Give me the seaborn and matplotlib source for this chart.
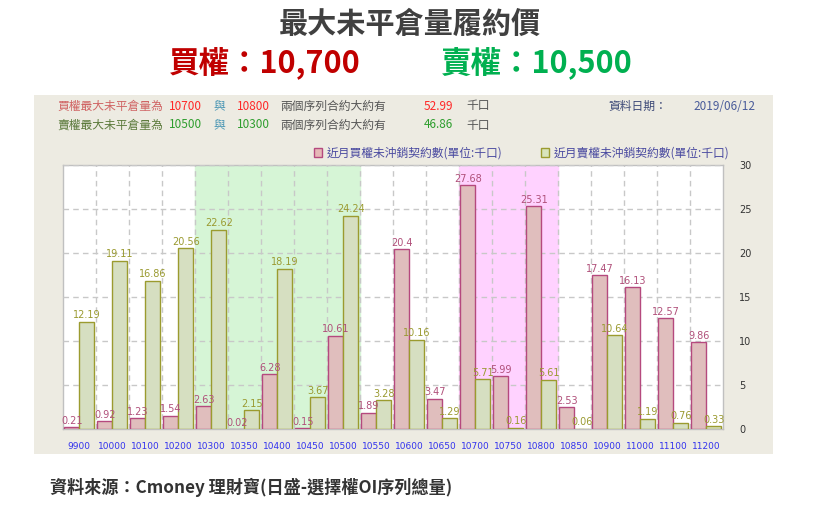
import numpy as np
import pandas as pd
import matplotlib
matplotlib.use("Agg")
import matplotlib.pyplot as plt
from matplotlib.patches import Rectangle, Patch
import seaborn as sns

# ---------------- data ----------------
strikes = ["9900", "10000", "10100", "10200", "10300", "10350", "10400", "10450", "10500", "10550",
           "10600", "10650", "10700", "10750", "10800", "10850", "10900", "11000", "11100", "11200"]
call_oi = [0.21, 0.92, 1.23, 1.54, 2.63, 0.02, 6.28, 0.15, 10.61, 1.89,
           20.4, 3.47, 27.68, 5.99, 25.31, 2.53, 17.47, 16.13, 12.57, 9.86]
put_oi = [12.19, 19.11, 16.86, 20.56, 22.62, 2.15, 18.19, 3.67, 24.24, 3.28,
          10.16, 1.29, 5.71, 0.16, 5.61, 0.06, 10.64, 1.19, 0.76, 0.33]
call_label = "近月買權未沖銷契約數(單位:千口)"
put_label = "近月賣權未沖銷契約數(單位:千口)"
y_ticks = [0, 5, 10, 15, 20, 25, 30]
put_zone = ["10300", "10500"]
call_zone = ["10700", "10800"]

df = pd.DataFrame({
    "strike": strikes * 2,
    "series": [call_label] * len(strikes) + [put_label] * len(strikes),
    "value": call_oi + put_oi,
})

# ---------------- style ----------------
sns.set_theme(style="white")
plt.rcParams["font.family"] = ["Noto Sans CJK TC", "DejaVu Sans"]

W, H = 819, 508
fig = plt.figure(figsize=(W / 100, H / 100), dpi=100)
fig.patch.set_facecolor("white")

def fx(px):
    return px / W

def fy(py):
    return 1 - py / H

# beige panel
fig.patches.append(Rectangle((fx(34), fy(454)), fx(773) - fx(34), fy(95) - fy(454),
                             transform=fig.transFigure, facecolor="#EDEBE2",
                             edgecolor="none", zorder=-10))

ax = fig.add_axes([fx(62.7), fy(429.3), fx(722.7) - fx(62.7), fy(164.7) - fy(429.3)])
ax.set_zorder(1)
ax.set_facecolor("white")

call_fill, call_edge, call_txt = "#E6B8B7", "#B5497E", "#B0507A"
put_fill, put_edge, put_txt = "#D8E4BC", "#9B9B2F", "#9A9A30"

sns.barplot(data=df, x="strike", y="value", hue="series", order=strikes,
            hue_order=[call_label, put_label], palette=[call_fill, put_fill],
            width=0.91, gap=0, ax=ax, legend=False, zorder=3)

edges = [call_edge, put_edge]
txts = [call_txt, put_txt]
for cont, ec, tc in zip(ax.containers, edges, txts):
    for p in cont:
        p.set_edgecolor(ec)
        p.set_linewidth(1.0)
    ax.bar_label(cont, labels=[f"{v:g}" for v in cont.datavalues], color=tc,
                 fontsize=7, padding=1, family=["DejaVu Sans"])

# shaded zones
i0, i1 = strikes.index(put_zone[0]), strikes.index(put_zone[1])
ax.axvspan(i0 - 0.5, i1 + 0.5, color="#D6F5D6", zorder=0)
j0, j1 = strikes.index(call_zone[0]), strikes.index(call_zone[1])
ax.axvspan(j0 - 0.5, j1 + 0.5, color="#FFD2FF", zorder=0)

ax.set_xlim(-0.5, len(strikes) - 0.5)
ax.set_ylim(0, 30)
ax.set_yticks(y_ticks)
ax.yaxis.tick_right()
ax.tick_params(axis="y", length=0, pad=12, labelsize=7, labelcolor="#333333")
ax.tick_params(axis="x", length=0, pad=9, labelsize=6.5, labelcolor="#3333EE")
for lab in ax.get_xticklabels() + ax.get_yticklabels():
    lab.set_family(["DejaVu Sans"])
ax.set_xlabel("")
ax.set_ylabel("")

ax.set_xticks(np.arange(0.5, len(strikes) - 1, 1), minor=True)
ax.tick_params(axis="x", which="minor", length=0)
ax.grid(True, which="major", axis="y", color="#C8C8C8", linestyle=(0, (4, 3)), linewidth=1, zorder=1)
ax.grid(True, which="minor", axis="x", color="#C8C8C8", linestyle=(0, (4, 3)), linewidth=1, zorder=1)
ax.set_axisbelow(False)
for line in ax.get_xgridlines() + ax.get_ygridlines():
    line.set_zorder(1)
for s in ax.spines.values():
    s.set_color("#C0C0C0")
    s.set_linewidth(1)

# legend
handles = [Patch(facecolor=call_fill, edgecolor=call_edge), Patch(facecolor=put_fill, edgecolor=put_edge)]
fig.legend(handles, [call_label, put_label], loc="center left",
           bbox_to_anchor=(fx(314), fy(153)), ncol=2, frameon=False,
           handlelength=0.7, handleheight=0.7, handletextpad=0.4, columnspacing=3.2,
           fontsize=8.5, labelcolor="#4A4AA0", borderaxespad=0, borderpad=0)

# ---------------- header texts ----------------
fig.text(fx(410), fy(24), "最大未平倉量履約價", ha="center", va="center",
         fontsize=21, fontweight="bold", color="#404040")
fig.text(fx(265), fy(63), "買權：10,700", ha="center", va="center",
         fontsize=22, fontweight="bold", color="#C00000")
fig.text(fx(537), fy(63), "賣權：10,500", ha="center", va="center",
         fontsize=22, fontweight="bold", color="#00B050")

fs = 8.5
def t(x, y, s, c):
    fig.text(fx(x), fy(y), s, ha="left", va="center", fontsize=fs, color=c)

y1, y2 = 106, 125
t(57, y1, "買權最大未平倉量為", "#D06464")
t(169, y1, "10700", "#FF2828")
t(213, y1, "與", "#4A96B4")
t(237, y1, "10800", "#FF2828")
t(280, y1, "兩個序列合約大約有", "#555555")
t(424, y1, "52.99", "#FF2828")
t(466, y1, "千口", "#555555")
t(608, y1, "資料日期：", "#3E4A78")
t(693, y1, "2019/06/12", "#4A5C9A")

t(57, y2, "賣權最大未平倉量為", "#5C7A3C")
t(169, y2, "10500", "#2E9E2E")
t(213, y2, "與", "#4A96B4")
t(237, y2, "10300", "#2E9E2E")
t(280, y2, "兩個序列合約大約有", "#555555")
t(424, y2, "46.86", "#2E9E2E")
t(466, y2, "千口", "#555555")

fig.text(fx(50), fy(487), "資料來源：Cmoney 理財寶(日盛-選擇權OI序列總量)", ha="left", va="center",
         fontsize=12.3, fontweight="bold", color="#333333")

fig.savefig("out.png", dpi=100)
